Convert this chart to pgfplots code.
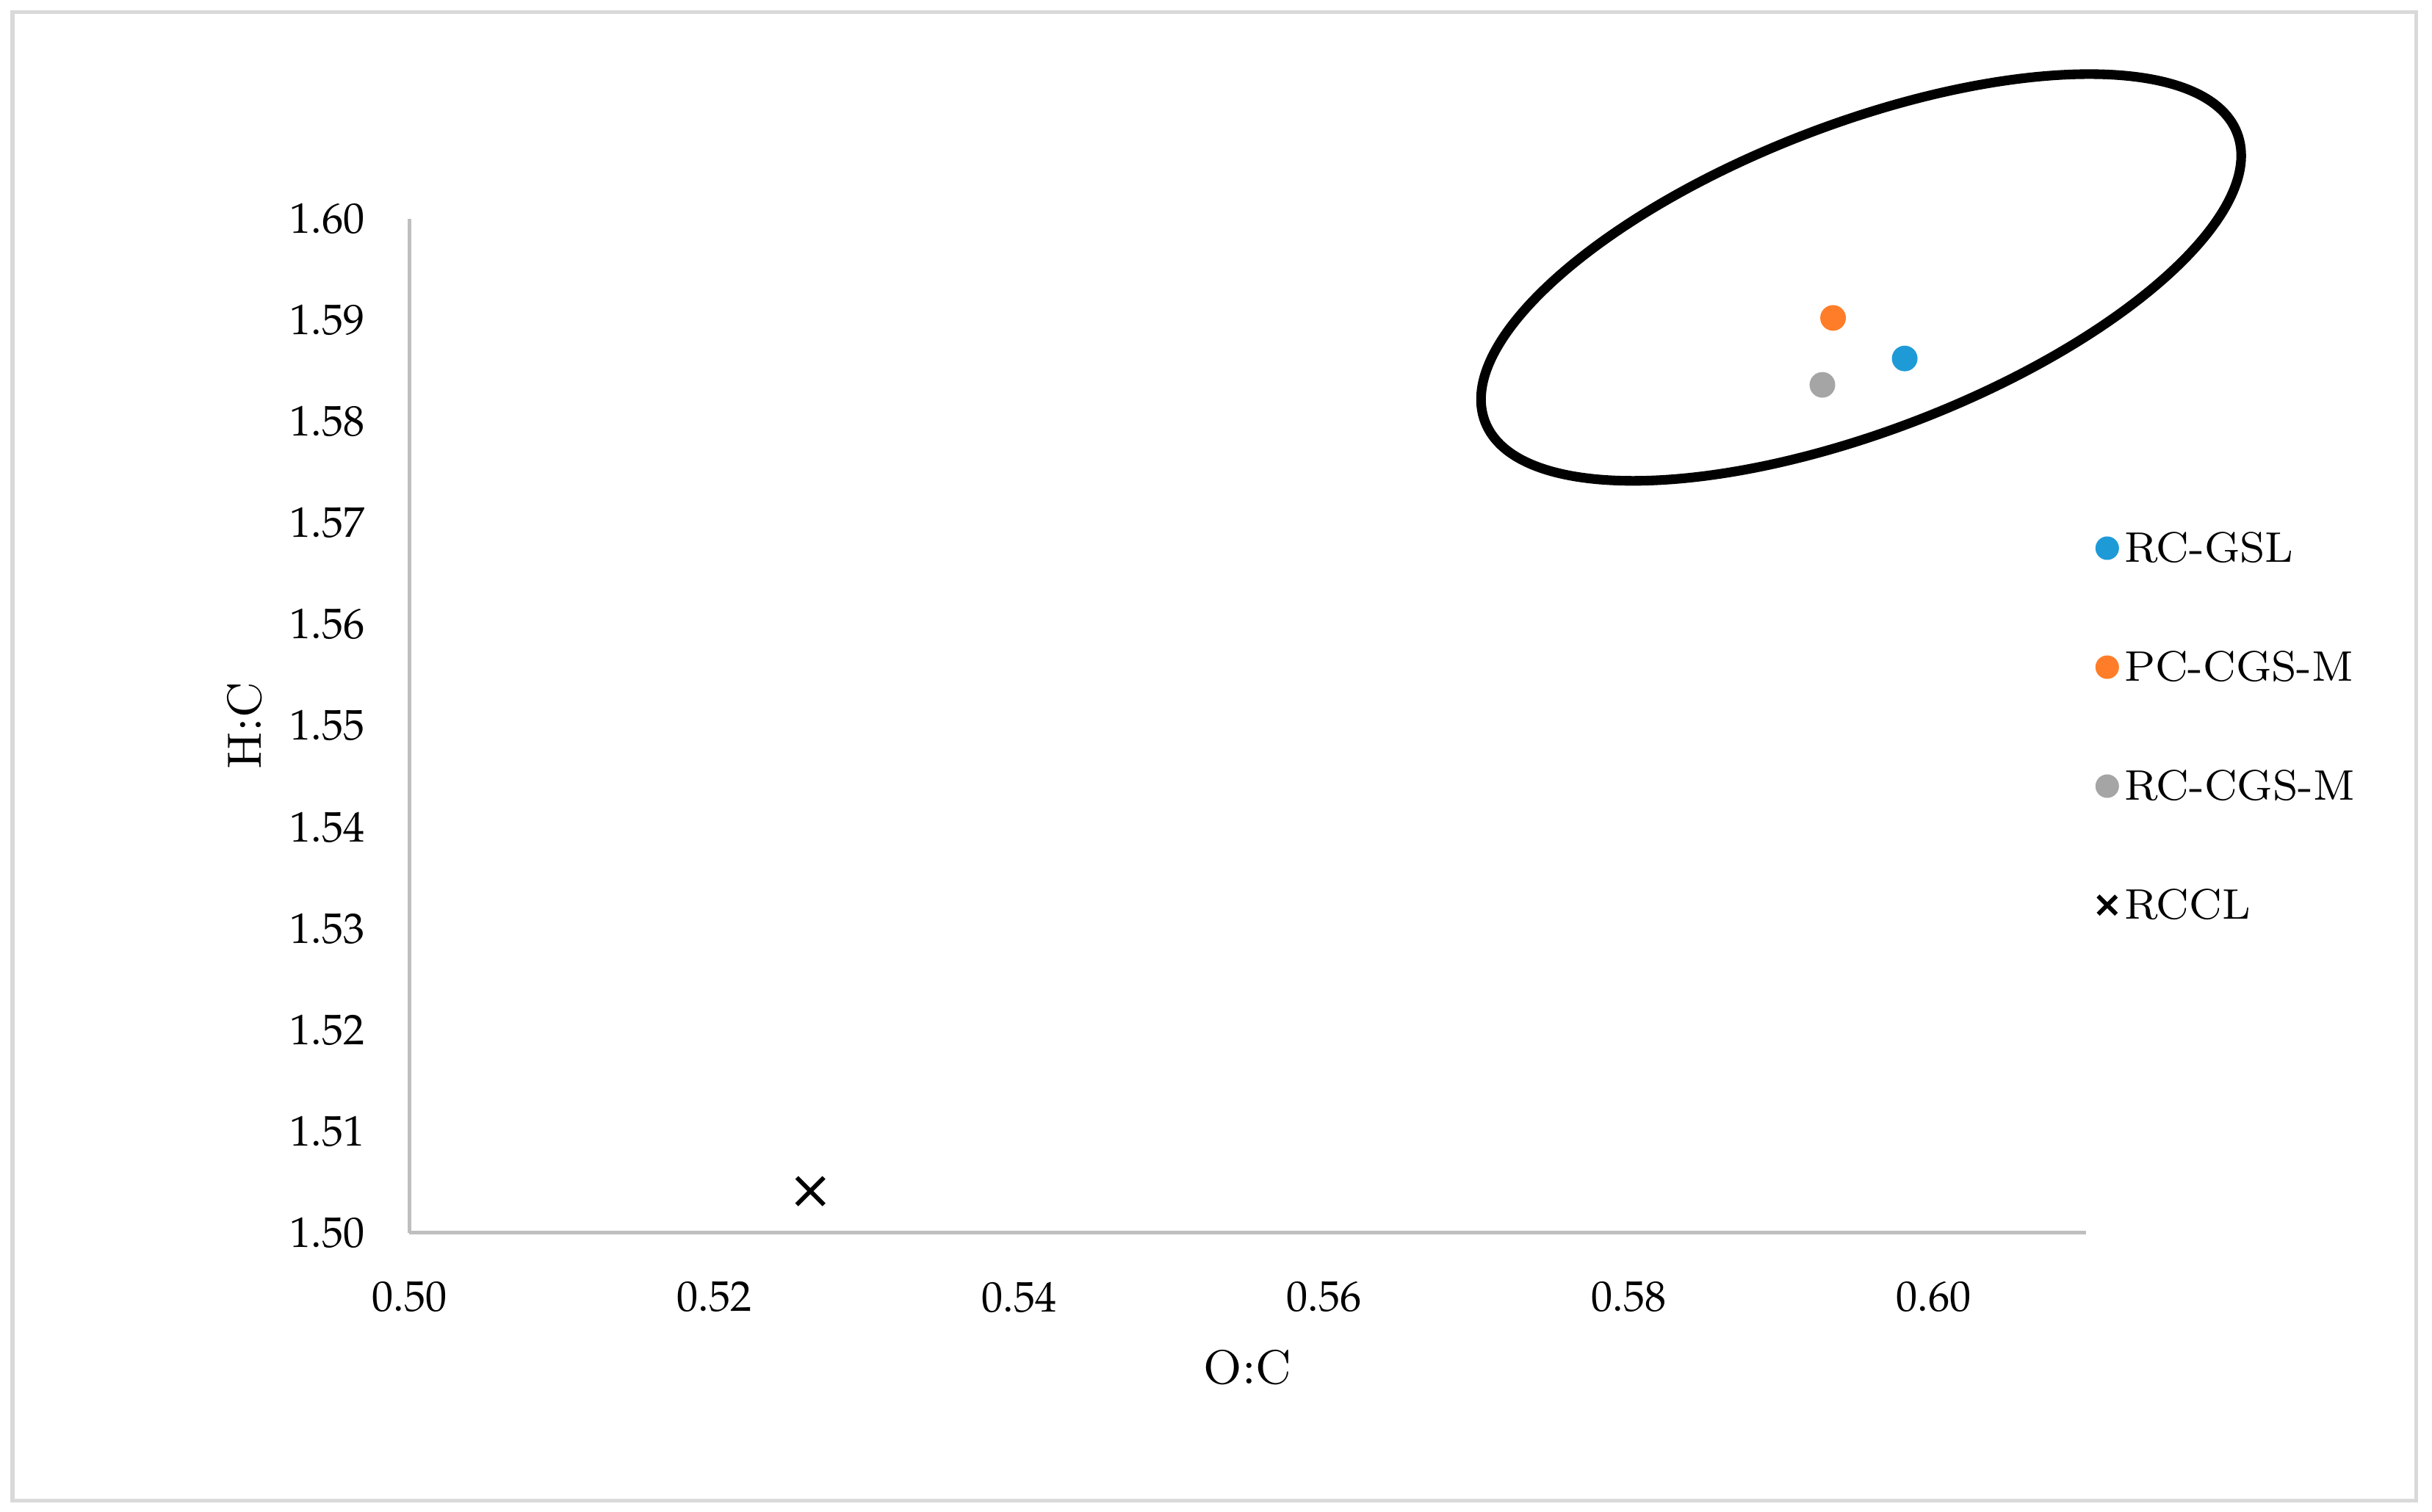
\documentclass[border=0pt]{standalone}
\usepackage{mathpazo}
\usepackage{pgfplots}
\pgfplotsset{compat=1.18}
\definecolor{gslblue}{RGB}{30,155,215}
\definecolor{cgsorange}{RGB}{255,125,40}
\definecolor{cgsgray}{RGB}{165,165,165}
\definecolor{frame}{RGB}{217,217,217}
\definecolor{axgray}{RGB}{191,191,191}
\pgfplotsset{
  crosslegend/.style={legend image code/.code={%
    \draw[black, line width=0.8pt, mark=x, mark size=2.4pt] plot coordinates {(0.07cm,0cm)};}},
}

\begin{document}
\begin{tikzpicture}
% page and outer frame (1 px of the 1568 px picture = 0.010204 cm)
\path (-2.694,8.112) rectangle (13.306,-1.837);
\draw[frame, line width=0.7pt] (-2.612,8.031) rectangle (13.204,-1.765);
\begin{axis}[
  at={(0,0)}, anchor=south west,
  scale only axis, width=11.03cm, height=6.674cm,
  xmin=0.50, xmax=0.61, ymin=1.50, ymax=1.60,
  xtick={0.50,0.52,0.54,0.56,0.58,0.60},
  ytick={1.50,1.51,1.52,1.53,1.54,1.55,1.56,1.57,1.58,1.59,1.60},
  axis x line*=bottom, axis y line*=left,
  axis line style={axgray, line width=0.7pt, -},
  major tick length=0pt,
  xticklabel style={/pgf/number format/fixed, /pgf/number format/fixed zerofill,
    /pgf/number format/precision=2, font=\fontsize{8}{9.6}\selectfont, yshift=-0.2cm},
  yticklabel style={/pgf/number format/fixed, /pgf/number format/fixed zerofill,
    /pgf/number format/precision=2, font=\fontsize{8}{9.6}\selectfont, xshift=-0.17cm},
  xlabel={O:C}, ylabel={H:C},
  xlabel style={at={(axis description cs:0.5,0)}, anchor=center, yshift=-0.888cm,
    font=\fontsize{9}{10.8}\selectfont},
  ylabel style={at={(axis description cs:-0.0981,0.5)}, anchor=center,
    font=\fontsize{9}{10.8}\selectfont},
  clip=false,
  legend cell align=left,
  legend style={draw=none, fill=none, at={(1.0056,0.499)}, anchor=west,
    font=\fontsize{8}{9.6}\selectfont, row sep=0.48cm, inner sep=0pt,
    nodes={inner xsep=1.2pt, inner ysep=0pt, text height=1.6ex, text depth=0.4ex}},
  legend image code/.code={\draw[mark size=2pt, #1] plot coordinates {(0.07cm,0cm)};},
]
\addplot[only marks, mark=*, mark size=2.2pt, draw=gslblue, fill=gslblue]
  coordinates {(0.5981,1.5862)};
\addlegendentry{RC-GSL}
\addplot[only marks, mark=*, mark size=2.2pt, draw=cgsorange, fill=cgsorange]
  coordinates {(0.5934,1.5902)};
\addlegendentry{PC-CGS-M}
\addplot[only marks, mark=*, mark size=2.2pt, draw=cgsgray, fill=cgsgray]
  coordinates {(0.5927,1.5836)};
\addlegendentry{RC-CGS-M}
\addplot[only marks, mark=x, mark size=3.6pt, black, line width=0.8pt, crosslegend]
  coordinates {(0.5263,1.5041)};
\addlegendentry{RCCL}
\end{axis}
% hand-drawn ring round the three samples
\draw[line width=1.8pt, rotate around={21:(9.55,6.286)}]
  (9.55,6.286) ellipse [x radius=2.65cm, y radius=1.010cm];
\end{tikzpicture}
\end{document}
